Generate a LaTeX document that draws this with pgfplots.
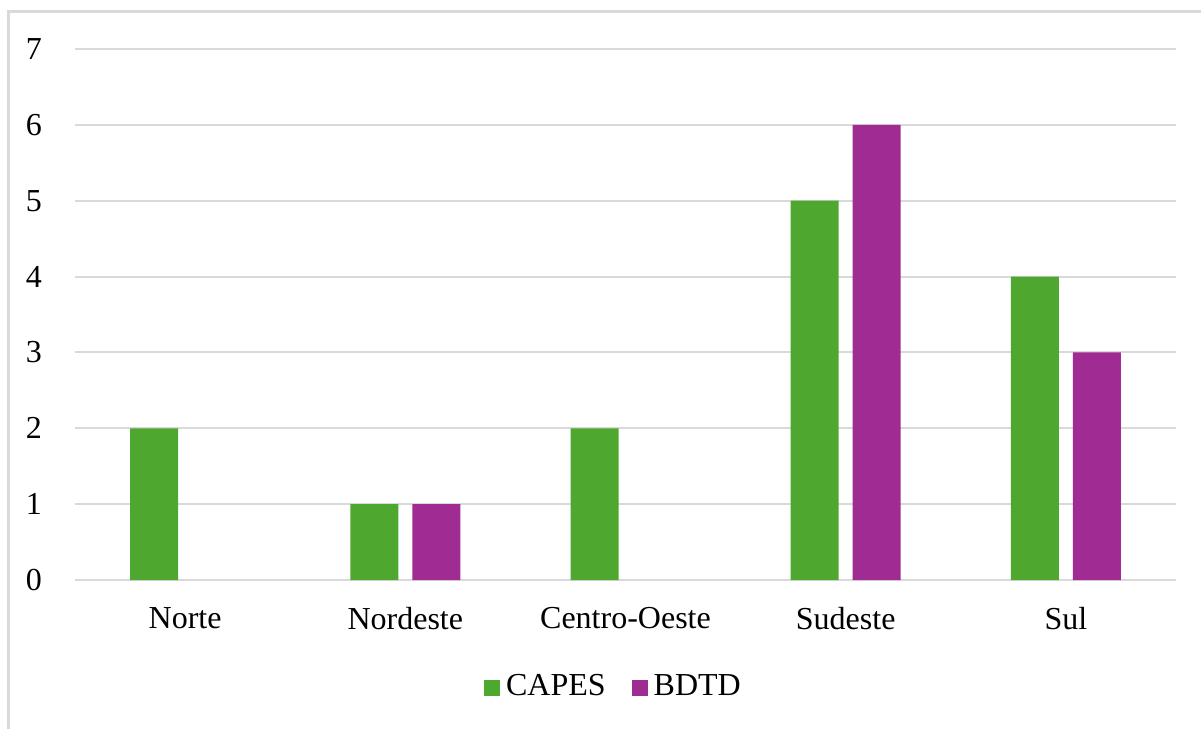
\documentclass[border=0pt]{standalone}
\usepackage{fontspec}
\setmainfont{Liberation Serif}
\usepackage{pgfplots}
\pgfplotsset{compat=1.18}
\definecolor{capes}{RGB}{78,167,46}
\definecolor{bdtd}{RGB}{160,43,147}
\definecolor{gridgray}{RGB}{217,217,217}
\begin{document}
\fontsize{16}{19}\selectfont
\begin{tikzpicture}
    % page is 1201x729 px at 0.5pt per px
    \useasboundingbox (0,0) rectangle (600.5pt,364.5pt);
    % frame (top and left edges only)
    \draw[gridgray, line width=1.5pt] (4pt,0pt) -- (4pt,358.5pt) -- (600.5pt,358.5pt);
    \begin{axis}[at={(37.5pt,74.5pt)}, anchor=south west,
                 scale only axis,
                 width=550.5pt,
                 height=265.5pt,
                 ybar=7pt,
                 bar width=24pt,
                 xmin=-0.5, xmax=4.5,
                 ymin=0, ymax=7,
                 xtick={0,1,2,3,4},
                 xticklabels={Norte,Nordeste,Centro-Oeste,Sudeste,Sul},
                 ytick={0,1,...,7},
                 /pgf/number format/assume math mode=true,
                 major tick length=0pt,
                 axis line style={draw=none},
                 ymajorgrids,
                 grid style={gridgray, line width=1pt},
                 yticklabel style={anchor=east, xshift=-11pt},
                 xticklabel style={anchor=north, yshift=-8pt},
                 legend style={at={(0.49,-0.203)}, anchor=center, draw=none,
                               legend columns=2, column sep=0pt,
                               /tikz/every odd column/.append style={column sep=1pt},
                               /tikz/every even column/.append style={column sep=11pt}},
                 legend image code/.code={\fill[#1] (0pt,-4pt) rectangle (8pt,4pt);},
                 clip=false]
        % CAPES
        \addplot[fill=capes, draw=none] coordinates {(0,2) (1,1) (2,2) (3,5) (4,4)};
        % BDTD (no bars for Norte and Centro-Oeste)
        \addplot[fill=bdtd, draw=none] coordinates {(1,1) (3,6) (4,3)};
        \legend{CAPES,BDTD}
    \end{axis}
\end{tikzpicture}
\end{document}
